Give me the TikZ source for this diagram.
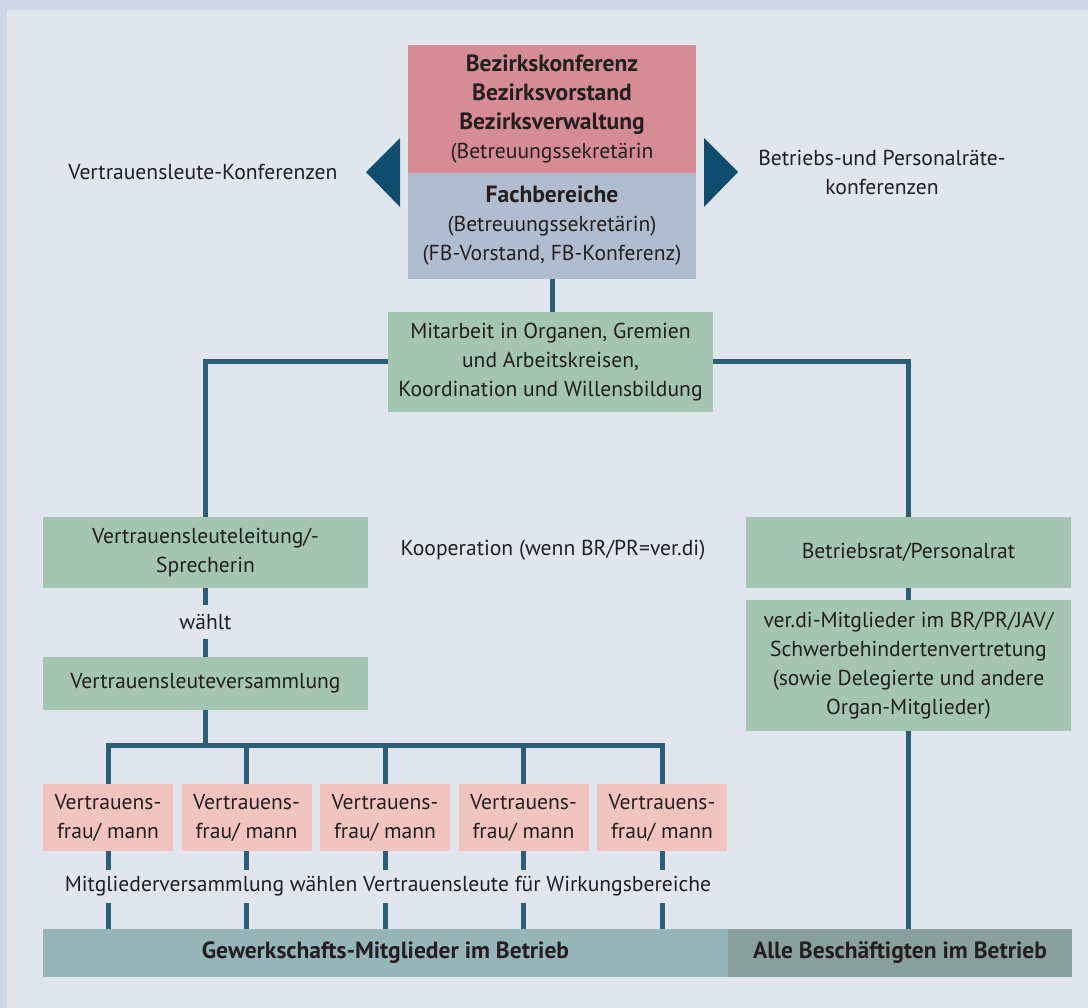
\documentclass[tikz,border=0pt]{standalone}
\usepackage{fontspec}
\setmainfont{PT Sans}
\usepackage{xcolor}
\definecolor{frame}{HTML}{CCD5E3}
\definecolor{paper}{HTML}{E0E5EE}
\definecolor{bezred}{HTML}{D68C94}
\definecolor{fbgrey}{HTML}{B0BDCF}
\definecolor{organgreen}{HTML}{A3C5B2}
\definecolor{vfpink}{HTML}{F2C4BF}
\definecolor{gewbar}{HTML}{96B5B9}
\definecolor{allebar}{HTML}{8AA09C}
\definecolor{connline}{HTML}{2C5E77}
\definecolor{triblue}{HTML}{0F4D6F}
\definecolor{txt}{HTML}{231F20}
\newcommand{\bigbf}[1]{{\fontsize{23.5}{29}\selectfont\bfseries #1}}
\tikzstyle{box}=[rectangle,inner sep=0pt,align=center,text=txt]
\tikzstyle{redbox}=[box,fill=bezred,minimum width=288pt,minimum height=128pt]
\tikzstyle{greybox}=[box,fill=fbgrey,minimum width=288pt,minimum height=106pt]
\tikzstyle{organ}=[box,fill=organgreen,minimum width=325pt]
\tikzstyle{vfbox}=[box,fill=vfpink,minimum width=130pt,minimum height=67pt]
\tikzstyle{basebar}=[box,fill=gewbar,minimum width=685pt,minimum height=48pt]
\tikzstyle{conn}=[draw=connline,line width=5pt]
\tikzstyle{label}=[text=txt,align=center,inner sep=0pt]

\begin{document}
\begin{tikzpicture}[x=1pt,y=-1pt,font=\fontsize{21.6}{29}\selectfont]
\fill[frame] (0,0) rectangle (1088,1008);
\fill[paper] (7,10) rectangle (1088,1008);
\useasboundingbox (0,0) rectangle (1088,1008);

\node [redbox] (bezirk) at (552,109) {\bigbf{Bezirkskonferenz}\\\bigbf{Bezirksvorstand}\\\bigbf{Bezirksverwaltung}\\(Betreuungssekretärin};
\node [greybox] (fach) at (552,226) {\bigbf{Fachbereiche}\\(Betreuungssekretärin)\\(FB-Vorstand, FB-Konferenz)};
\fill[triblue] (400,138) -- (400,207) -- (366,172) -- cycle;
\fill[triblue] (704,138) -- (704,207) -- (738,172) -- cycle;
\node [label] (vkonf) at (203,172) {Vertrauensleute-Konferenzen};
\node [label] (bkonf) at (882,172) {Betriebs-und Personalräte-\\konferenzen};

\node [organ,minimum height=100pt] (mitarbeit) at (550.5,362) {Mitarbeit in Organen, Gremien\\und Arbeitskreisen,\\Koordination und Willensbildung};
\node [organ,minimum height=71pt] (leitung) at (205.5,552.5) {Vertrauensleuteleitung/-\\Sprecherin};
\node [label] (koop) at (553,550) {Kooperation (wenn BR/PR=ver.di)};
\node [organ,minimum height=71pt] (brpr) at (908.5,552.5) {Betriebsrat/Personalrat};
\node [organ,minimum height=131pt] (verdi) at (908.5,665.5) {ver.di-Mitglieder im BR/PR/JAV/\\Schwerbehindertenvertretung\\(sowie Delegierte und andere\\Organ-Mitglieder)};
\node [label,minimum height=34pt] (waehlt) at (205.5,622) {wählt};
\node [organ,minimum height=53pt] (vversammlung) at (205.5,683.5) {Vertrauensleuteversammlung};
\coordinate (split) at (205.5,745);
\foreach \i in {1,...,5}
  \node [vfbox] (vf\i) at ({108+138.5*(\i-1)},817.5) {Vertrauens-\\frau/ mann};
\node [label,minimum height=33pt] (wahl) at (388,886.5) {Mitgliederversammlung wählen Vertrauensleute für Wirkungsbereiche};
\node [basebar] (gew) at (385.5,953) {\bigbf{Gewerkschafts-Mitglieder im Betrieb}};
\node [basebar,fill=allebar,minimum width=344pt] (alle) at (900,953) {\bigbf{Alle Beschäftigten im Betrieb}};

\draw[conn] (fach.south) -- (fach.south |- mitarbeit.north);
\draw[conn] (mitarbeit.west) -| (leitung.north);
\draw[conn] (mitarbeit.east) -| (brpr.north);
\draw[conn] (leitung.south) -- (waehlt.north);
\draw[conn] (waehlt.south) -- (vversammlung.north);
\draw[conn] (vversammlung.south) -- (split);
\draw[conn] (vf1.north) -- (vf1.north |- split) -- (vf5.north |- split) -- (vf5.north);
\foreach \i in {2,3,4}
  \draw[conn] (vf\i.north |- split) -- (vf\i.north);
\foreach \i in {1,...,5} {
  \draw[conn] (vf\i.south) -- (vf\i.south |- wahl.north);
  \draw[conn] (vf\i.south |- wahl.south) -- (vf\i.south |- gew.north);
}
\draw[conn] (brpr.south) -- (verdi.north);
\draw[conn] (verdi.south) -- (verdi.south |- alle.north);
\end{tikzpicture}
\end{document}
